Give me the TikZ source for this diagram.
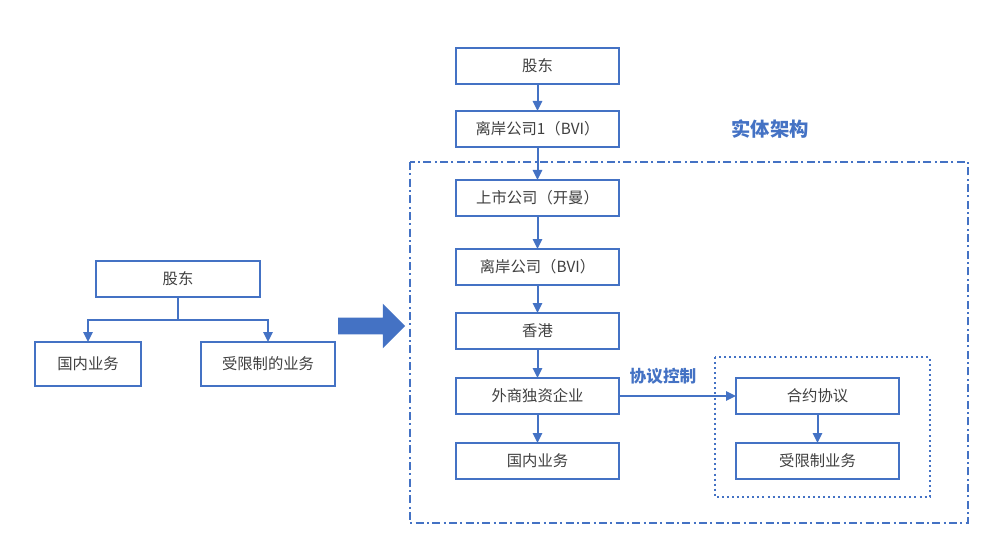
\documentclass[tikz,border=0pt]{standalone}
\usepackage{fontspec}
\setmainfont{Noto Sans CJK SC}
\usepackage{xcolor}
\usetikzlibrary{arrows.meta,positioning,shapes.arrows}
\definecolor{lineblue}{HTML}{4472C4}
\definecolor{textgray}{HTML}{404040}

\begin{document}
\begin{tikzpicture}[
    x=0.75pt, y=-0.75pt,
    box/.style={rectangle, draw=lineblue, line width=1.5pt, fill=white, text=textgray, minimum width=122.25pt, minimum height=27pt, inner sep=0pt, outer sep=0pt, font=\fontsize{11.5}{13}\selectfont},
    smallbox/.style={box, minimum height=33pt},
    title/.style={text=lineblue, font=\bfseries\fontsize{14.5}{16}\selectfont},
    label/.style={text=lineblue, font=\bfseries\fontsize{12.5}{14}\selectfont},
    arrow/.style={-{Triangle[length=7.5pt,width=7pt]}, draw=lineblue, line width=1.5pt},
    group/.style={draw=lineblue, line width=1.2pt, dash pattern=on 6pt off 2.5pt on 1.5pt off 2.5pt},
    inner/.style={draw=lineblue, line width=1.5pt, dash pattern=on 1.5pt off 2.3pt}
]
\useasboundingbox (0,0) rectangle (999,556);

% Frames
\draw[group] (410,162) rectangle (968,523);
\draw[inner] (715,357) rectangle (930,497);

% Before
\node[box, minimum width=123pt] (lholder) at (178,279) {股东};
\node[smallbox, minimum width=79.5pt] (ldomestic) at (88,364) {国内业务};
\node[smallbox, minimum width=100.5pt] (lrestricted) at (268,364) {受限制的业务};

% Transition arrow
\node[single arrow, fill=lineblue, inner xsep=0pt, inner ysep=6pt, minimum height=50.25pt, single arrow head extend=10.5pt] (shift) at (367.5,326) {};

% After: holding chain
\node[box] (holder) at (537.5,66) {股东};
\node[box, below=20.25pt of holder] (bvione) {离岸公司1（BVI）};
\node[box, below=24.75pt of bvione] (listed) {上市公司（开曼）};
\node[box, below=24.75pt of listed] (bvi) {离岸公司（BVI）};
\node[box, below=21pt of bvi] (hk) {香港};
\node[box, below=21.75pt of hk] (wfoe) {外商独资企业};
\node[box, below=21.75pt of wfoe] (domestic) {国内业务};

% VIE side
\node[box, right=87.75pt of wfoe] (contract) {合约协议};
\node[box, below=21.75pt of contract] (restricted) {受限制业务};

% Labels
\node[title] (structure) at (770,129) {实体架构};
\node[label] (control) at (663,376) {协议控制};

% Connections
\draw[arrow] (lholder.south) -- ++(0,23) -| (ldomestic.north);
\draw[arrow] (lholder.south) -- ++(0,23) -| (lrestricted.north);

\draw[arrow] (holder) -- (bvione);
\draw[arrow] (bvione) -- (listed);
\draw[arrow] (listed) -- (bvi);
\draw[arrow] (bvi) -- (hk);
\draw[arrow] (hk) -- (wfoe);
\draw[arrow] (wfoe) -- (domestic);
\draw[arrow] (wfoe) -- (contract);
\draw[arrow] (contract) -- (restricted);

\end{tikzpicture}
\end{document}
